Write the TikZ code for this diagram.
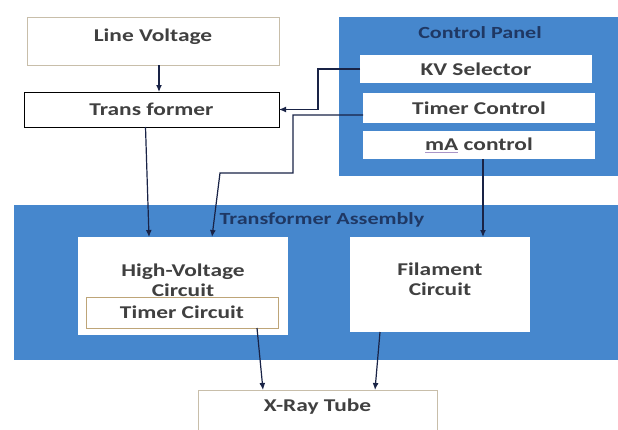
\documentclass[tikz,border=0pt]{standalone}
\usepackage{fontspec}
\setmainfont[FakeStretch=1.3]{Carlito}
\usepackage{tikz}
\usetikzlibrary{calc,arrows.meta}
\definecolor{panelblue}{RGB}{70,135,205}
\definecolor{darknavy}{RGB}{31,56,100}
\definecolor{linenavy}{RGB}{25,35,70}
\definecolor{textgray}{RGB}{64,64,64}
\definecolor{lighttan}{RGB}{200,190,170}
\definecolor{darktan}{RGB}{190,165,120}
\definecolor{squiggle}{RGB}{170,150,200}

\begin{document}
\begin{tikzpicture}[x=1pt, y=-1pt,
    every node/.style={font=\fontsize{18}{20}\selectfont\bfseries, text=textgray, inner sep=0pt, outer sep=0pt},
    blk/.style={draw=#1, fill=white, line width=0.9pt},
    whitebox/.style={fill=white},
    panel/.style={fill=panelblue},
    title/.style={text=darknavy, font=\fontsize{17}{20}\selectfont\bfseries},
    arr/.style={-{Latex[length=7pt,width=6pt]}, line width=1.2pt, draw=linenavy}]
    \useasboundingbox (0,0) rectangle (618,429);
    \clip (0,0) rectangle (618,429);
    % left column
    \node[blk=lighttan, minimum width=252pt, minimum height=48pt, text height=12pt, text depth=12pt] (lv) at (153,41) {Line Voltage};
    \node[blk=black, minimum width=255pt, minimum height=35pt] (tf) at (151.5,109.5) {Trans former};
    % control panel
    \node[panel, minimum width=279pt, minimum height=159pt] (cp) at (478.5,96.5) {};
    \node[title] (cptitle) at (480,33) {Control Panel};
    \node[whitebox, minimum width=232pt, minimum height=28pt] (kv) at (476,69) {KV Selector};
    \node[whitebox, minimum width=232pt, minimum height=30pt] (tc) at (479,108) {Timer Control};
    \node[whitebox, minimum width=232pt, minimum height=28pt] (ma) at (479,145) {\textcolor{squiggle}{\underline{\textcolor{textgray}{mA}}} control};
    % transformer assembly
    \node[panel, minimum width=604pt, minimum height=155pt] (ta) at (316,282.5) {};
    \node[title] (tatitle) at (322,220) {Transformer Assembly};
    \node[whitebox, minimum width=210pt, minimum height=98pt] (hv) at (183,286) {};
    \node[align=center] (hvtext) at (183,280) {High-Voltage\\Circuit};
    \node[blk=darktan, minimum width=192pt, minimum height=31pt] (tcir) at (182,312.5) {Timer Circuit};
    \node[whitebox, minimum width=180pt, minimum height=95pt] (fil) at (440,284.5) {};
    \node[align=center] (filtext) at (440,279) {Filament\\Circuit};
    % tube
    \node[blk=lighttan, minimum width=239pt, minimum height=50pt, text height=12pt, text depth=19pt] (xr) at (317.5,415) {X-Ray Tube};
    % connectors
    \coordinate (tcbend) at (220,173);
    \draw[arr] ([xshift=6pt]lv.south) -- ([xshift=6pt]lv.south |- tf.north);
    \draw[arr] (kv.west) -- ++(-42,0) |- (tf.east);
    \draw[arr] ([yshift=-7pt]tc.west) -- ++(-70,0) |- (tcbend) -- ([xshift=29pt]hv.north);
    \draw[arr] ([xshift=-6pt]tf.south) -- ([xshift=-34pt]hv.north);
    \draw[arr] ([xshift=4pt]ma.south) -- ([xshift=43pt]fil.north);
    \draw[arr] ([xshift=75pt]tcir.south) -- ([xshift=-54.5pt]xr.north);
    \draw[arr] ([xshift=-60pt]fil.south) -- ([xshift=57.5pt]xr.north);
\end{tikzpicture}
\end{document}
